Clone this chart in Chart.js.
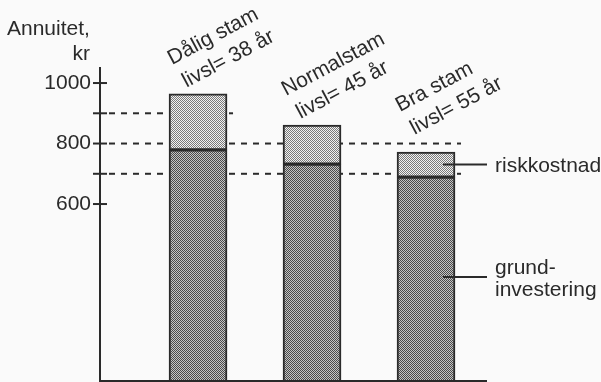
<!DOCTYPE html>
<html>
<head>
<meta charset="utf-8">
<script src="https://cdn.jsdelivr.net/npm/chart.js"></script>
<style>
  html, body { margin: 0; padding: 0; background: #fafafa; }
  #wrap { width: 601px; height: 382px; }
</style>
</head>
<body>
<div id="wrap"><canvas id="myChart" width="601" height="382"></canvas></div>
<script>
// Data
const categories = ['Dålig stam', 'Normalstam', 'Bra stam'];
const lifespans = ['livsl= 38 år', 'livsl= 45 år', 'livsl= 55 år'];
const grundinvestering = [779, 732, 689];
const riskkostnad = [185, 129, 83];
const tickValues = [600, 700, 800, 900, 1000];
const tickLabels = [600, 800, 1000];
const refLevels = [900, 800, 700];
const refEndBar = [0, 2, 2];   // which bar each dashed line runs up to
const seriesNames = ['grund-\ninvestering', 'riskkostnad'];

const FONT = '"Liberation Sans", Arial, sans-serif';
const INK = '#2a2a2a';

// checkered fills like the printed raster
function makePattern(light, dark) {
    const c = document.createElement('canvas');
    c.width = 2; c.height = 2;
    const g = c.getContext('2d');
    g.fillStyle = light; g.fillRect(0, 0, 2, 2);
    g.fillStyle = dark; g.fillRect(0, 0, 1, 1); g.fillRect(1, 1, 1, 1);
    return g.createPattern(c, 'repeat');
}
const lightFill = makePattern('#f2f2f2', '#7a7a7a');
const darkFill = makePattern('#c4c4c4', '#4a4a4a');

const decorations = {
    id: 'decorations',
    beforeDraw(chart) {
        const ctx = chart.ctx;
        ctx.save();
        ctx.fillStyle = '#fafafa';
        ctx.fillRect(0, 0, chart.width, chart.height);
        ctx.restore();
    },
    beforeDatasetsDraw(chart) {
        const ctx = chart.ctx;
        const y = chart.scales.y;
        const bars = chart.getDatasetMeta(1).data;
        ctx.save();
        ctx.strokeStyle = INK;
        ctx.lineWidth = 2;
        ctx.setLineDash([6, 6]);
        refLevels.forEach((v, i) => {
            const py = y.getPixelForValue(v);
            const bar = bars[refEndBar[i]];
            ctx.beginPath();
            ctx.moveTo(chart.chartArea.left + 9, py);
            ctx.lineTo(bar.x + bar.width / 2 + 6, py);
            ctx.stroke();
        });
        ctx.restore();
    },
    afterDraw(chart) {
        const ctx = chart.ctx;
        const y = chart.scales.y;
        const area = chart.chartArea;
        ctx.save();
        // axes
        ctx.strokeStyle = INK;
        ctx.lineWidth = 2;
        ctx.beginPath();
        ctx.moveTo(area.left, area.top);
        ctx.lineTo(area.left, area.bottom);
        ctx.lineTo(area.right, area.bottom);
        ctx.stroke();
        tickValues.forEach(v => {
            const py = y.getPixelForValue(v);
            ctx.beginPath();
            ctx.moveTo(area.left - 7, py);
            ctx.lineTo(area.left + 7, py);
            ctx.stroke();
        });

        // axis title
        ctx.fillStyle = INK;
        ctx.font = '21px ' + FONT;
        ctx.textBaseline = 'alphabetic';
        ctx.textAlign = 'left';
        ctx.fillText('Annuitet,', 7, 35);
        ctx.textAlign = 'right';
        ctx.fillText('kr', 90, 60);

        // rotated bar captions
        const bars = chart.getDatasetMeta(1).data;
        const lift = [29, 29, 40];
        ctx.textAlign = 'left';
        bars.forEach((bar, i) => {
            ctx.save();
            ctx.translate(bar.x - bar.width / 2 + 3, bar.y - lift[i]);
            ctx.rotate(-28 * Math.PI / 180);
            ctx.fillText(categories[i], 0, 0);
            ctx.fillText(lifespans[i], 2, 27);
            ctx.restore();
        });

        // series callouts at the last bar
        const last = bars.length - 1;
        const yTop = y.getPixelForValue(grundinvestering[last] + riskkostnad[last]);
        const ySplit = y.getPixelForValue(grundinvestering[last]);
        const yBase = area.bottom;
        const barRight = bars[last].x + bars[last].width / 2;
        const callouts = [
            { y: (yTop + ySplit) / 2, text: seriesNames[1] },
            { y: (ySplit + yBase) / 2 - 2, text: seriesNames[0] }
        ];
        ctx.lineWidth = 2;
        callouts.forEach(c => {
            ctx.beginPath();
            ctx.moveTo(barRight - 12, c.y);
            ctx.lineTo(area.right, c.y);
            ctx.stroke();
            const lines = c.text.split('\n');
            const y0 = c.y + 7 - (lines.length - 1) * 11 + (lines.length > 1 ? 1 : 0);
            lines.forEach((t, k) => ctx.fillText(t, area.right + 8, y0 + k * 22));
        });
        ctx.restore();
    }
};

const myChart = new Chart(document.getElementById('myChart'), {
    type: 'bar',
    data: {
        datasets: [
            {
                label: 'grundinvestering',
                data: grundinvestering.map((v, i) => ({ x: i + 1, y: v })),
                backgroundColor: darkFill,
                borderColor: INK,
                borderWidth: 2,
                borderSkipped: false,
                barThickness: 58
            },
            {
                label: 'riskkostnad',
                data: riskkostnad.map((v, i) => ({ x: i + 1, y: v })),
                backgroundColor: lightFill,
                borderColor: INK,
                borderWidth: 2,
                borderSkipped: false,
                barThickness: 58
            }
        ]
    },
    options: {
        responsive: false,
        animation: false,
        events: [],
        layout: { padding: { left: 0, top: 67, right: 114, bottom: 1 } },
        plugins: {
            legend: { display: false },
            tooltip: { enabled: false }
        },
        scales: {
            x: {
                type: 'linear',
                stacked: true,
                display: false,
                offset: false,
                min: 0.14,
                max: 3.535
            },
            y: {
                stacked: true,
                min: 15,
                max: 1053,
                border: { display: false },
                grid: { display: false, drawTicks: false },
                afterBuildTicks: scale => {
                    scale.ticks = tickValues.map(v => ({ value: v }));
                },
                afterFit: scale => {
                    scale.width = 100;
                    scale.paddingTop = 0;
                    scale.paddingBottom = 0;
                },
                ticks: {
                    padding: 9,
                    color: INK,
                    font: { family: FONT, size: 21 },
                    callback: v => tickLabels.includes(v) ? String(v) : ''
                }
            }
        }
    },
    plugins: [decorations]
});
</script>
</body>
</html>
